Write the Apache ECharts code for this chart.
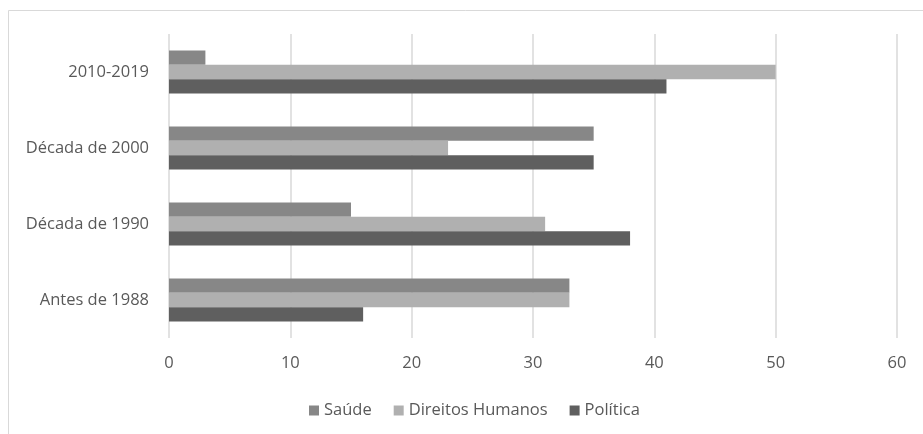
<!DOCTYPE html>
<html>
<head>
<meta charset="utf-8">
<script src="https://cdn.jsdelivr.net/npm/echarts@6/dist/echarts.min.js"></script>
<style>
  html, body { margin: 0; padding: 0; background: #fff; }
  #chart { width: 923px; height: 434px; }
</style>
</head>
<body>
<div id="chart"></div>
<script>
// Periods, bottom to top on the category axis
const categories = ['Antes de 1988', 'Década de 1990', 'Década de 2000', '2010-2019'];
const seriesNames = ['Saúde', 'Direitos Humanos', 'Política'];
const saude = [33, 15, 35, 3];
const direitosHumanos = [33, 31, 23, 50];
const politica = [16, 38, 35, 41];
const xTicks = { min: 0, max: 60, interval: 10 };

const colors = { 'Saúde': '#878787', 'Direitos Humanos': '#b0b0b0', 'Política': '#5f5f5f' };
const font = '"Open Sans", sans-serif';
const textColor = '#595959';

const chart = echarts.init(document.getElementById('chart'), null, { renderer: 'canvas' });

const valuesByName = {
  'Saúde': saude,
  'Direitos Humanos': direitosHumanos,
  'Política': politica
};

chart.setOption({
  animation: false,
  backgroundColor: '#ffffff',
  textStyle: { fontFamily: font },
  grid: { left: 169, right: 26, top: 34, bottom: 96, containLabel: false },
  xAxis: {
    type: 'value',
    min: xTicks.min,
    max: xTicks.max,
    interval: xTicks.interval,
    axisLine: { show: false },
    axisTick: { show: false },
    splitLine: { lineStyle: { color: '#d9d9d9', width: 1.5 } },
    axisLabel: { color: textColor, fontSize: 16.5, margin: 17, fontFamily: font }
  },
  yAxis: {
    type: 'category',
    data: categories,
    axisLine: { show: false },
    axisTick: { show: false },
    axisLabel: { color: textColor, fontSize: 16.5, margin: 20, fontFamily: font }
  },
  legend: {
    data: seriesNames,
    left: 304,
    top: 397,
    itemWidth: 10,
    itemHeight: 10,
    itemGap: 22,
    icon: 'rect',
    textStyle: { color: textColor, fontSize: 16.5, fontFamily: font }
  },
  graphic: [
    { type: 'line', shape: { x1: 8.5, y1: 10.5, x2: 923, y2: 10.5 }, style: { stroke: '#d9d9d9', lineWidth: 1 } },
    { type: 'line', shape: { x1: 8.5, y1: 10.5, x2: 8.5, y2: 434 }, style: { stroke: '#d9d9d9', lineWidth: 1 } }
  ],
  series: seriesNames.map(name => ({
    name: name,
    type: 'bar',
    data: valuesByName[name],
    barWidth: 14.3,
    barGap: '0%',
    itemStyle: { color: colors[name] }
  }))
});
</script>
</body>
</html>
